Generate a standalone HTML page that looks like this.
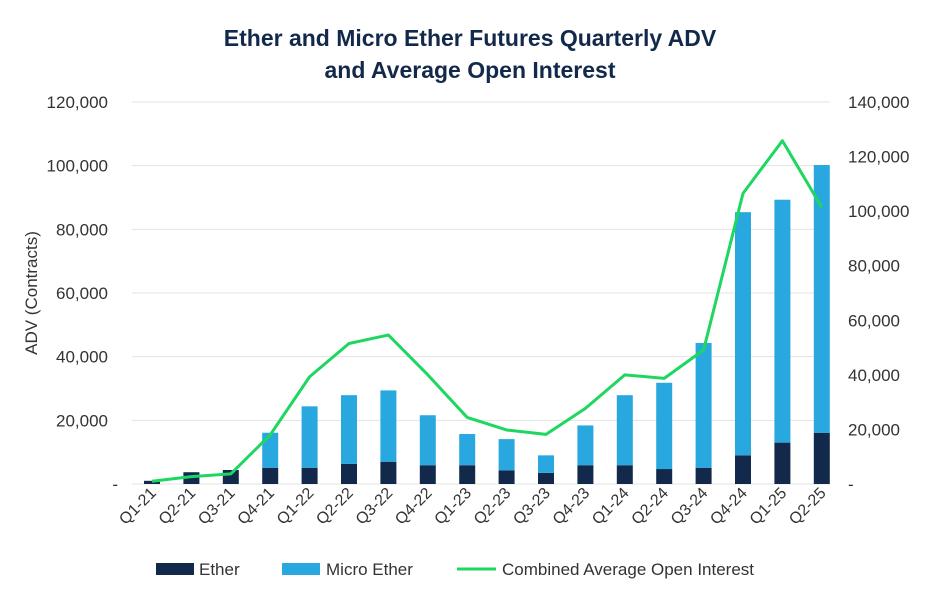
<!DOCTYPE html>
<html><head><meta charset="utf-8"><style>
body{margin:0;background:#fff;}
svg{font-family:"Liberation Sans",sans-serif;}
</style></head><body>
<svg id="chart" width="940" height="600" viewBox="0 0 940 600" xmlns="http://www.w3.org/2000/svg">
<text x="470" y="46" text-anchor="middle" font-size="23" font-weight="bold" fill="#13294b">Ether and Micro Ether Futures Quarterly ADV</text>
<text x="470" y="78" text-anchor="middle" font-size="23" font-weight="bold" fill="#13294b">and Average Open Interest</text>
<g id="grid"></g>
<g id="ylab"></g>
<g id="y2lab"></g>
<text transform="translate(37,293) rotate(-90)" text-anchor="middle" font-size="17" fill="#333">ADV (Contracts)</text>
<g id="bars"></g>
<g id="line"></g>
<g id="xlab"></g>
<g>
<rect x="156" y="563" width="38" height="12" fill="#13294b"/>
<text x="199" y="575" font-size="17" fill="#333">Ether</text>
<rect x="282" y="563" width="38" height="12" fill="#29a8e0"/>
<text x="326" y="575" font-size="17" fill="#333">Micro Ether</text>
<line x1="457" y1="569" x2="496" y2="569" stroke="#1ed760" stroke-width="3"/>
<text x="502" y="575" font-size="17" fill="#333">Combined Average Open Interest</text>
</g>
</svg>
<script>
const categories=["Q1-21","Q2-21","Q3-21","Q4-21","Q1-22","Q2-22","Q3-22","Q4-22","Q1-23","Q2-23","Q3-23","Q4-23","Q1-24","Q2-24","Q3-24","Q4-24","Q1-25","Q2-25"];
const etherValues=[1000,3700,4400,5100,5100,6300,7000,5900,5900,4300,3500,5900,5900,4700,5100,9000,13000,16100];
const microValues=[0,0,0,11000,19300,21600,22400,15700,9800,9800,5500,12500,22000,27100,39200,76400,76300,84100];
const openInterest=[1000,2700,3700,18000,39300,51500,54600,40000,24400,19800,18200,27700,40000,38700,49100,106500,125800,101400];
const leftTicks=[0,20000,40000,60000,80000,100000,120000];
const rightTicks=[0,20000,40000,60000,80000,100000,120000,140000];
const NS="http://www.w3.org/2000/svg";
const baseY=484, topY=102;
function yL(v){return baseY-(v/120000)*(baseY-topY);}
function yR(v){return baseY-(v/140000)*(baseY-topY);}
function xC(i){return 152+i*39.4;}
function mk(tag,attrs,parent){const e=document.createElementNS(NS,tag);for(const k in attrs)e.setAttribute(k,attrs[k]);parent.appendChild(e);return e;}
function fmt(v){return v===0?"-":v.toLocaleString("en-US");}
const grid=document.getElementById("grid"),ylab=document.getElementById("ylab"),y2lab=document.getElementById("y2lab");
leftTicks.forEach(t=>{
  const l=mk("line",{x1:132,x2:830,y1:yL(t),y2:yL(t),stroke:"#e3e3e3","stroke-width":1},grid);
  
  
  const tx=mk("text",{x:t===0?118:108,y:yL(t)+6,"text-anchor":"end","font-size":17,fill:"#333"},ylab);
  tx.textContent=fmt(t);
  
  
});
rightTicks.forEach(t=>{
  const tx=mk("text",{x:848,y:yR(t)+6,"text-anchor":"start","font-size":17,fill:"#333"},y2lab);
  tx.textContent=fmt(t);
  
  
});
const bars=document.getElementById("bars"),xlab=document.getElementById("xlab");
const bw=16;
categories.forEach((c,i)=>{
  const x=xC(i)-bw/2;
  const e=etherValues[i],m=microValues[i];
  const r1=mk("rect",{x:x,y:yL(e),width:bw,height:baseY-yL(e),fill:"#13294b"},bars);
  
  
  const r2=mk("rect",{x:x,y:yL(e+m),width:bw,height:yL(e)-yL(e+m),fill:"#29a8e0"},bars);
  
  
  const t=mk("text",{transform:"translate("+(xC(i)+5)+",494) rotate(-45)","text-anchor":"end","font-size":16,fill:"#333"},xlab);
  t.textContent=c;
  
  
});
const pts=openInterest.map((v,i)=>xC(i)+","+yR(v)).join(" ");
const pl=mk("polyline",{points:pts,fill:"none",stroke:"#1ed760","stroke-width":3,"stroke-linejoin":"round"},document.getElementById("line"));


</script>
</body></html>
